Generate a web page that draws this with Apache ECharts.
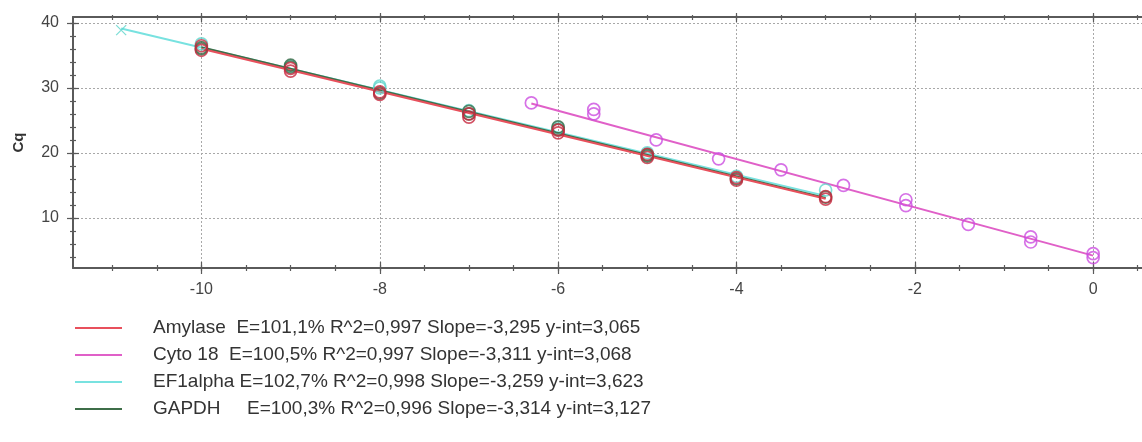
<!DOCTYPE html>
<html>
<head>
<meta charset="utf-8">
<script src="https://cdn.jsdelivr.net/npm/echarts@6/dist/echarts.min.js"></script>
<style>
  html, body { margin: 0; padding: 0; background: #fff; }
  #chart { width: 1142px; height: 442px; }
</style>
</head>
<body>
<div id="chart"></div>
<script>
// Standard curves: log10 starting quantity (x) against Cq (y)
const amylasePoints = [
  [-10, 36.5], [-10, 35.8], [-9, 33.0], [-9, 32.6], [-8, 29.4], [-8, 29.0],
  [-7, 26.0], [-7, 25.5], [-6, 23.5], [-6, 23.1], [-5, 19.8], [-5, 19.3],
  [-4, 16.2], [-4, 15.8], [-3, 13.3], [-3, 12.9]
];
const cytoPoints = [
  [-6.3, 27.7], [-5.6, 26.7], [-5.6, 26.0], [-4.9, 22.0], [-4.2, 19.1],
  [-3.5, 17.4], [-2.8, 15.0], [-2.1, 12.8], [-2.1, 11.9], [-1.4, 9.0],
  [-0.7, 7.1], [-0.7, 6.3], [0, 4.5], [0, 3.9]
];
const ef1Points = [
  [-10, 36.8], [-9, 33.4], [-8, 30.3], [-8, 30.0], [-7, 26.5], [-6, 23.9],
  [-5, 20.0], [-4, 16.4], [-3, 14.3]
];
const ef1Extra = [[-10.9, 38.9]];
const gapdhPoints = [
  [-10, 36.2], [-10, 36.0], [-9, 33.5], [-9, 33.2], [-8, 29.2], [-7, 26.4],
  [-7, 26.0], [-6, 24.0], [-6, 23.6], [-5, 19.7], [-5, 19.5], [-4, 16.0], [-3, 13.2]
];

// Regression lines (end points)
const amylaseFit = [[-10, 36.02], [-3, 12.95]];
const cytoFit = [[-6.3, 27.6], [0, 4.2]];
const ef1Fit = [[-10.9, 39.15], [-3, 13.40]];
const gapdhFit = [[-10, 36.27], [-3, 13.07]];

// Legend captions
const seriesNames = ['Amylase', 'Cyto 18', 'EF1alpha', 'GAPDH'];
const legendTexts = [
  'Amylase  E=101,1% R^2=0,997 Slope=-3,295 y-int=3,065',
  'Cyto 18  E=100,5% R^2=0,997 Slope=-3,311 y-int=3,068',
  'EF1alpha E=102,7% R^2=0,998 Slope=-3,259 y-int=3,623',
  'GAPDH     E=100,3% R^2=0,996 Slope=-3,314 y-int=3,127'
];

// Axis ticks and labels
const xLabelValues = [-10, -8, -6, -4, -2, 0];
const xMinorValues = [-11, -10.5, -10, -9.5, -9, -8.5, -8, -7.5, -7, -6.5, -6, -5.5,
  -5, -4.5, -4, -3.5, -3, -2.5, -2, -1.5, -1, -0.5, 0, 0.5];
const yLabelValues = [10, 20, 30, 40];
const yMinorValues = [4, 6, 8, 10, 12, 14, 16, 18, 20, 22, 24, 26, 28, 30, 32, 34, 36, 38, 40];

const lineColors = ['#e8505c', '#e060c8', '#78e2e0', '#3e6e48'];
const markColors = ['#c8283e', '#cc4ee0', '#5fd6cc', '#3d6b47'];

const X_RANGE = [-11.44, 0.66];
const Y_RANGE = [2.3, 40.92];
const AXIS_COLOR = '#5a5a5a';
const FONT = '"Liberation Sans", Arial, sans-serif';

function tickAxis(range, position, values, length, inside, extra) {
  return Object.assign({
    type: 'value',
    position: position,
    min: range[0],
    max: range[1],
    axisLine: { show: false, onZero: false },
    axisLabel: { show: false },
    splitLine: { show: false },
    axisTick: {
      show: true, customValues: values, length: length, inside: inside,
      lineStyle: { color: AXIS_COLOR, width: 1.2 }
    }
  }, extra || {});
}

const gridLine = { show: true, lineStyle: { color: '#a8a8a8', type: [2, 2], width: 1 } };

const xAxes = [
  tickAxis(X_RANGE, 'bottom', xMinorValues, 3, false, {
    axisLine: { show: true, onZero: false, lineStyle: { color: AXIS_COLOR, width: 2 } },
    axisLabel: {
      show: true, customValues: xLabelValues, margin: 14,
      fontFamily: FONT, fontSize: 16, color: '#444'
    }
  }),
  tickAxis(X_RANGE, 'bottom', xMinorValues, 3, true),
  tickAxis(X_RANGE, 'bottom', xLabelValues, 6, false, { splitLine: gridLine }),
  tickAxis(X_RANGE, 'bottom', xLabelValues, 6, true),
  tickAxis(X_RANGE, 'top', xMinorValues, 3, true, {
    axisLine: { show: true, onZero: false, lineStyle: { color: AXIS_COLOR, width: 2 } }
  }),
  tickAxis(X_RANGE, 'top', xMinorValues, 2, false),
  tickAxis(X_RANGE, 'top', xLabelValues, 5, true),
  tickAxis(X_RANGE, 'top', xLabelValues, 4, false)
];

const yAxes = [
  tickAxis(Y_RANGE, 'left', yMinorValues, 3, false, {
    name: 'Cq',
    nameLocation: 'middle',
    nameGap: 47,
    nameTextStyle: { fontFamily: FONT, fontSize: 15, fontWeight: 'bold', color: '#333' },
    axisLine: { show: true, onZero: false, lineStyle: { color: AXIS_COLOR, width: 2 } },
    axisLabel: {
      show: true, customValues: yLabelValues, margin: 14,
      fontFamily: FONT, fontSize: 16, color: '#444'
    }
  }),
  tickAxis(Y_RANGE, 'left', yMinorValues, 3, true),
  tickAxis(Y_RANGE, 'left', yLabelValues, 6, false, { splitLine: gridLine }),
  tickAxis(Y_RANGE, 'left', yLabelValues, 6, true)
];

function fitSeries(i, data, z) {
  return {
    name: seriesNames[i], type: 'line', data: data, symbol: 'none',
    xAxisIndex: 0, yAxisIndex: 0, z: z, silent: true,
    lineStyle: { color: lineColors[i], width: 2 },
    itemStyle: { color: lineColors[i] }
  };
}

function markSeries(i, data, z) {
  return {
    name: seriesNames[i] + ' data', type: 'scatter', data: data,
    xAxisIndex: 0, yAxisIndex: 0, z: z,
    symbol: 'circle', symbolSize: 12,
    itemStyle: { color: 'rgba(255,255,255,0)', borderColor: markColors[i], borderWidth: 1.7 }
  };
}

const option = {
  animation: false,
  backgroundColor: '#fff',
  grid: { left: 73, top: 17, width: 1079, height: 251, outerBoundsMode: 'none' },
  xAxis: xAxes,
  yAxis: yAxes,
  legend: {
    data: seriesNames,
    orient: 'vertical',
    left: 75,
    top: 318,
    padding: 0,
    icon: 'rect',
    itemWidth: 47,
    itemHeight: 2,
    itemGap: 7,
    selectedMode: false,
    formatter: function (name) {
      return '{g|}' + legendTexts[seriesNames.indexOf(name)];
    },
    textStyle: {
      fontFamily: FONT, fontSize: 19, color: '#333', lineHeight: 20,
      rich: { g: { width: 26 } }
    }
  },
  series: [
    fitSeries(2, ef1Fit, 2),
    fitSeries(3, gapdhFit, 2),
    fitSeries(0, amylaseFit, 2),
    fitSeries(1, cytoFit, 2),
    markSeries(2, ef1Points, 3),
    {
      name: 'EF1alpha extra', type: 'scatter', data: ef1Extra,
      xAxisIndex: 0, yAxisIndex: 0, z: 3,
      symbol: 'path://M0,0L10,10M10,0L0,10', symbolSize: 10,
      itemStyle: { color: 'none', borderColor: markColors[2], borderWidth: 1.3 }
    },
    markSeries(3, gapdhPoints, 3),
    markSeries(0, amylasePoints, 4),
    markSeries(1, cytoPoints, 4)
  ]
};

const chart = echarts.init(document.getElementById('chart'), null, { renderer: 'canvas' });
chart.setOption(option);
</script>
</body>
</html>
